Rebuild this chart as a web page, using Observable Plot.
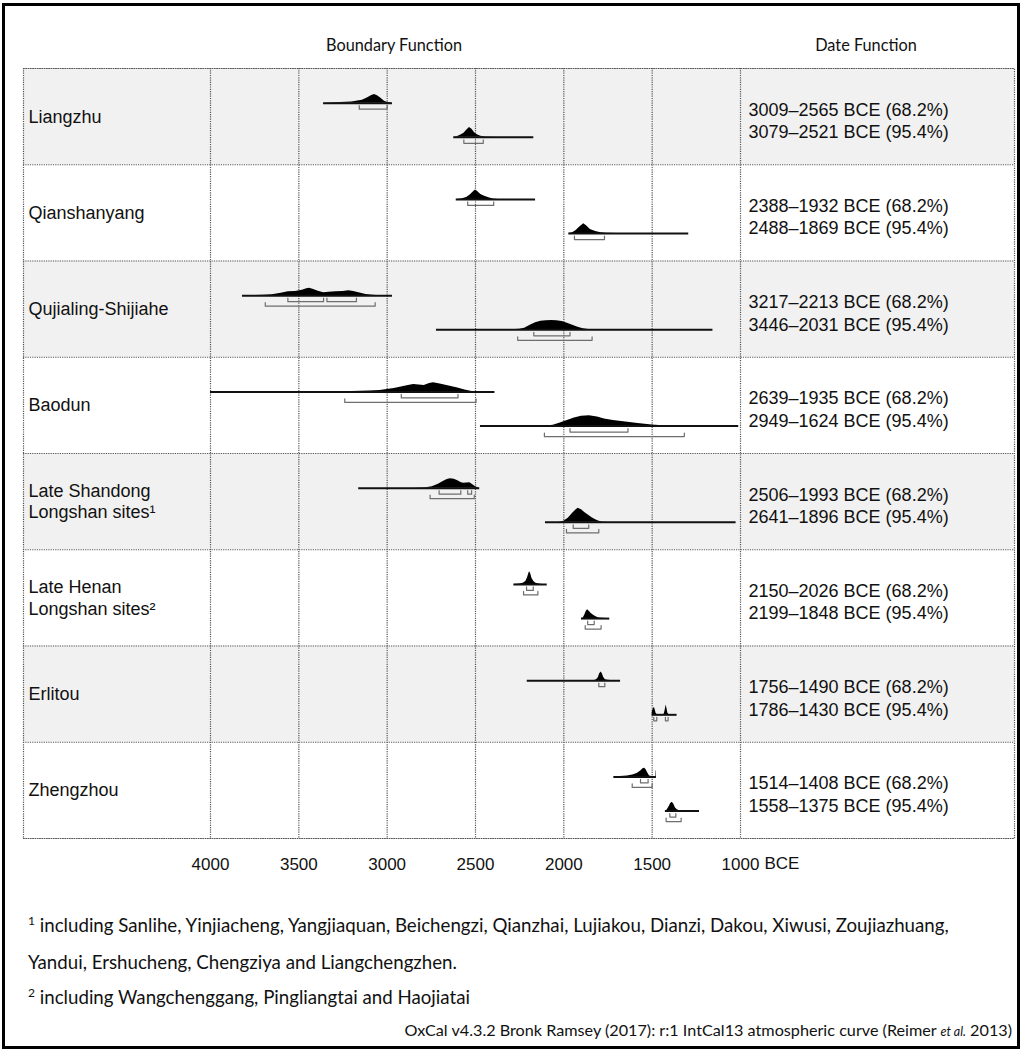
<!DOCTYPE html>
<html>
<head>
<meta charset="utf-8">
<script src="https://cdn.jsdelivr.net/npm/d3@7"></script>
<script src="https://cdn.jsdelivr.net/npm/@observablehq/plot@0.6"></script>
<style>
  body { margin: 0; background: #fff; }
  #wrap { position: relative; width: 1023px; height: 1052px; overflow: hidden; background: #fff; }
  #chart { position: absolute; left: 0; top: 0; }
  .border { position: absolute; left: 2px; top: 3px; width: 1018px; height: 1046px; border: 3px solid #000; box-sizing: border-box; pointer-events: none; }
  .cal { position: absolute; font-family: Lato, "Open Sans", sans-serif; color: #111; white-space: nowrap; }
  .hdr { font-size: 16.3px; width: 300px; text-align: center; line-height: 20px; }
  .note { font-size: 18.7px; line-height: 22px; left: 28px; }
  .note sup { font-size: 12px; vertical-align: 7px; line-height: 0; }
  .cap { font-size: 16.2px; line-height: 20px; right: 11px; }
  .cap i { font-size: 12.5px; }
</style>
</head>
<body>
<div id="wrap">
  <div id="chart"></div>
  <div class="cal hdr" style="left:244px; top:35px;">Boundary Function</div>
  <div class="cal hdr" style="left:716px; top:35px;">Date Function</div>
  <div class="cal note" style="top:914px;"><sup>1</sup> including Sanlihe, Yinjiacheng, Yangjiaquan, Beichengzi, Qianzhai, Lujiakou, Dianzi, Dakou, Xiwusi, Zoujiazhuang,</div>
  <div class="cal note" style="top:951px;">Yandui, Ershucheng, Chengziya and Liangchengzhen.</div>
  <div class="cal note" style="top:986px;"><sup>2</sup> including Wangchenggang, Pingliangtai and Haojiatai</div>
  <div class="cal cap" style="top:1020px;">OxCal v4.3.2 Bronk Ramsey (2017): r:1 IntCal13 atmospheric curve (Reimer <i>et al.</i> 2013)</div>
  <div class="border"></div>
</div>
<script>
// ---------------- DATA ----------------
const cultures = [
  "Liangzhu",
  "Qianshanyang",
  "Qujialing-Shijiahe",
  "Baodun",
  "Late Shandong\nLongshan sites¹",
  "Late Henan\nLongshan sites²",
  "Erlitou",
  "Zhengzhou"
];
const dateRange68 = ["3009–2565", "2388–1932", "3217–2213", "2639–1935", "2506–1993", "2150–2026", "1756–1490", "1514–1408"];
const dateRange95 = ["3079–2521", "2488–1869", "3446–2031", "2949–1624", "2641–1896", "2199–1848", "1786–1430", "1558–1375"];
const axisTicks = [4000, 3500, 3000, 2500, 2000, 1500, 1000];
const shadedRows = [0, 2, 4, 6];

// start boundary: full extent of each distribution (years BCE)
const startSpans = [[3360, 2970], [2609, 2160], [3819, 2970], [4000, 2390], [3161, 2476], [2283, 2094], [2207, 1679], [1717, 1476]];
// end boundary
const endSpans = [[2623, 2170], [1972, 1293], [2721, 1156], [2472, 1010], [2104, 1025], [1900, 1740], [1500, 1359], [1425, 1232]];

// probability profiles [year, relative probability]
const startDensity = [
  [[3360,0],[3300,0.5],[3200,1.2],[3140,3],[3110,5.5],[3090,7.5],[3072,8.7],[3055,7.5],[3035,5],[3015,2],[3000,0.8],[2980,0.3],[2970,0]],
  [[2609,0],[2580,0.5],[2550,2],[2530,4.5],[2510,8],[2500,9.3],[2488,8],[2470,5],[2445,3],[2420,1.5],[2400,0.5],[2370,0],[2160,0]],
  [[3819,0],[3700,0.3],[3650,1],[3600,2.5],[3560,3.8],[3520,4.2],[3480,5.5],[3455,7],[3440,7.5],[3420,6.5],[3390,4.5],[3360,3],[3330,3.4],[3290,3.8],[3250,4.2],[3217,4.8],[3190,4.2],[3160,2.8],[3120,1.2],[3080,0.4],[3040,0],[2970,0]],
  [[4000,0],[3250,0],[3200,0.5],[3100,1],[3040,1.5],[3000,2.5],[2960,3.5],[2920,5],[2880,6.5],[2850,7.5],[2820,7],[2790,6.5],[2760,8.5],[2738,9.2],[2700,8],[2650,6],[2600,4],[2560,2],[2520,0.5],[2500,0],[2390,0]],
  [[3161,0],[2850,0],[2780,0.5],[2745,1.5],[2710,4],[2680,7],[2660,8.7],[2642,9.3],[2620,8.8],[2600,7.5],[2580,5.5],[2566,5],[2550,5.2],[2532,5.4],[2515,3.5],[2500,1.5],[2485,0.3],[2476,0]],
  [[2283,0],[2250,0.3],[2230,1.2],[2215,3],[2205,7],[2198,11],[2194,12.7],[2188,11],[2180,6],[2170,3],[2158,1.2],[2140,0.4],[2120,0],[2094,0]],
  [[2207,0],[1830,0],[1815,0.8],[1805,3],[1797,7],[1789,8.7],[1782,7],[1775,3.5],[1765,1],[1750,0.3],[1720,0],[1679,0]],
  [[1717,0],[1680,0.3],[1640,1],[1610,2],[1585,3.5],[1565,6],[1550,8.5],[1543,8.7],[1535,7.5],[1525,4],[1515,1],[1500,0.3],[1479,0.3],[1478,6],[1476,6]]
];
const endDensity = [
  [[2623,0],[2605,0.5],[2585,2],[2565,4],[2550,7],[2534,9.7],[2520,8],[2505,4.5],[2490,2.5],[2470,1],[2440,0.3],[2380,0],[2170,0]],
  [[1972,0],[1950,0.8],[1930,3],[1910,6.5],[1887,9.7],[1870,7.5],[1850,4],[1820,2],[1790,0.8],[1760,0.2],[1700,0],[1293,0]],
  [[2721,0],[2300,0],[2250,0.5],[2222,1.5],[2190,4.5],[2160,7],[2130,8.5],[2100,9],[2068,9.2],[2040,9],[2010,8.2],[1980,6.5],[1950,4.5],[1920,2.5],[1890,1],[1860,0.3],[1820,0],[1156,0]],
  [[2472,0],[2100,0],[2060,0.8],[2020,3],[1980,5.5],[1940,8],[1900,9.7],[1855,10.2],[1810,9],[1770,7],[1720,5.5],[1650,4],[1580,2.5],[1500,1],[1440,0.2],[1400,0],[1010,0]],
  [[2104,0],[2030,0],[2000,1],[1975,4],[1950,9],[1930,12.5],[1919,14],[1900,12.5],[1880,9.5],[1860,7],[1840,4.5],[1820,2.5],[1800,1],[1780,0.3],[1750,0],[1025,0]],
  [[1900,0],[1890,0.5],[1880,4],[1872,7.5],[1865,8.7],[1855,7],[1845,5],[1830,3],[1815,1.5],[1800,0.6],[1780,0.2],[1760,0],[1740,0]],
  [[1500,0],[1499,3],[1494,6],[1487,7.3],[1483,5],[1478,1.5],[1472,0.3],[1460,0],[1440,0],[1432,0.5],[1427,4],[1421,9.7],[1416,6],[1411,1.5],[1405,0.3],[1390,0],[1359,0]],
  [[1425,0],[1415,1],[1405,4],[1395,7.5],[1387,8.7],[1378,7],[1368,3],[1358,1.2],[1345,0.4],[1320,0],[1232,0]]
];

// highest posterior density ranges (68.2% and 95.4%)
const start68 = [[[3158,3000]], [[2544,2397]], [[3562,3360],[3341,3174]], [[2920,2599]], [[2706,2583],[2544,2522]], [[2211,2173]], [[1802,1768]], [[1566,1523]]];
const start95 = [[], [], [[3690,3068]], [[3240,2497]], [[2757,2507]], [[2228,2147]], [], [[1613,1500]]];
const end68 = [[[2566,2456]], [[1940,1770]], [[2170,1965]], [[1965,1637]], [[1947,1859]], [[1865,1828]], [[1491,1474],[1425,1410]], [[1400,1366]]];
const end95 = [[], [], [[2261,1840]], [[2110,1318]], [[1985,1802]], [[1879,1789]], [], [[1421,1336]]];

// ---------------- LAYOUT (style) ----------------
const W = 1023, H = 880;
const TOP = 68, ROW_PX = 96.25;
const PX = 1 / ROW_PX;            // y units per pixel
const TRACK = {start: 0.36, end: 0.715};
const B68 = 6, B95 = 10.5, TICK = 3.5;

// ---------------- BUILD TABLES ----------------
const dists = [];
const areaPts = [];
const bracketPts = [];
let bid = 0;
cultures.forEach((c, i) => {
  [["start", startSpans, startDensity, start68, start95], ["end", endSpans, endDensity, end68, end95]].forEach(([kind, spans, dens, r68, r95]) => {
    const base = i + TRACK[kind];
    const id = `${i}-${kind}`;
    dists.push({id, from: spans[i][0], to: spans[i][1], base});
    dens[i].forEach(([yr, p]) => areaPts.push({id, year: yr, base, top: base - p * PX}));
    [[r68[i], B68], [r95[i], B95]].forEach(([rs, off]) => {
      rs.forEach(([a, b]) => {
        const id2 = "b" + (bid++);
        const yb = base + off * PX, yt = base + (off - TICK) * PX;
        bracketPts.push({id: id2, x: a, y: yt}, {id: id2, x: a, y: yb}, {id: id2, x: b, y: yb}, {id: id2, x: b, y: yt});
      });
    });
  });
});
const dateText = cultures.map((c, i) => `${dateRange68[i]} BCE (68.2%)\n${dateRange95[i]} BCE (95.4%)`);

const gridStyle = {stroke: "#555", strokeWidth: 1.2, strokeDasharray: "1.2,1.1"};

const chart = Plot.plot({
  width: W,
  height: H,
  marginLeft: 23,
  marginRight: 9,
  marginTop: TOP,
  marginBottom: H - (TOP + 8 * ROW_PX),
  style: {fontFamily: "'Liberation Sans', Arial, sans-serif", fontSize: "17px", color: "#111", background: "transparent"},
  x: {domain: [4000, 1000], range: [210, 740], ticks: axisTicks, tickSize: 0, tickPadding: 19, tickFormat: d => String(d), label: null},
  y: {domain: [0, 8], range: [TOP, TOP + 8 * ROW_PX], axis: null},
  marks: [
    Plot.rect(shadedRows, {y1: d => d, y2: d => d + 1, fill: "#f1f1f1"}),
    Plot.ruleX(axisTicks, {...gridStyle}),
    Plot.ruleY(d3.range(9), {...gridStyle}),
    Plot.frame({...gridStyle}),
    Plot.area(areaPts, {x1: "year", y1: "base", y2: "top", z: "id", fill: "#000", curve: "linear"}),
    Plot.ruleY(dists, {x1: "from", x2: "to", y: "base", stroke: "#111", strokeWidth: 2}),
    Plot.line(bracketPts, {x: "x", y: "y", z: "id", stroke: "#6e6e6e", strokeWidth: 1.2}),
    Plot.text(cultures, {y: (d, i) => i + 0.5, text: d => d, frameAnchor: "left", textAnchor: "start", dx: 5, dy: -1, fontSize: 18, lineHeight: 1.2, fill: "#111"}),
    Plot.text(dateText, {x: () => 1000, y: (d, i) => i + 0.5, text: d => d, textAnchor: "start", dx: 8, dy: 3, fontSize: 18, lineHeight: 1.25, fill: "#111"}),
    Plot.text(["BCE"], {x: () => 1000, frameAnchor: "bottom", lineAnchor: "middle", text: d => d, textAnchor: "start", dx: 24, dy: 25, fontSize: 17, fill: "#111"})
  ]
});
document.getElementById("chart").appendChild(chart);
</script>
</body>
</html>
